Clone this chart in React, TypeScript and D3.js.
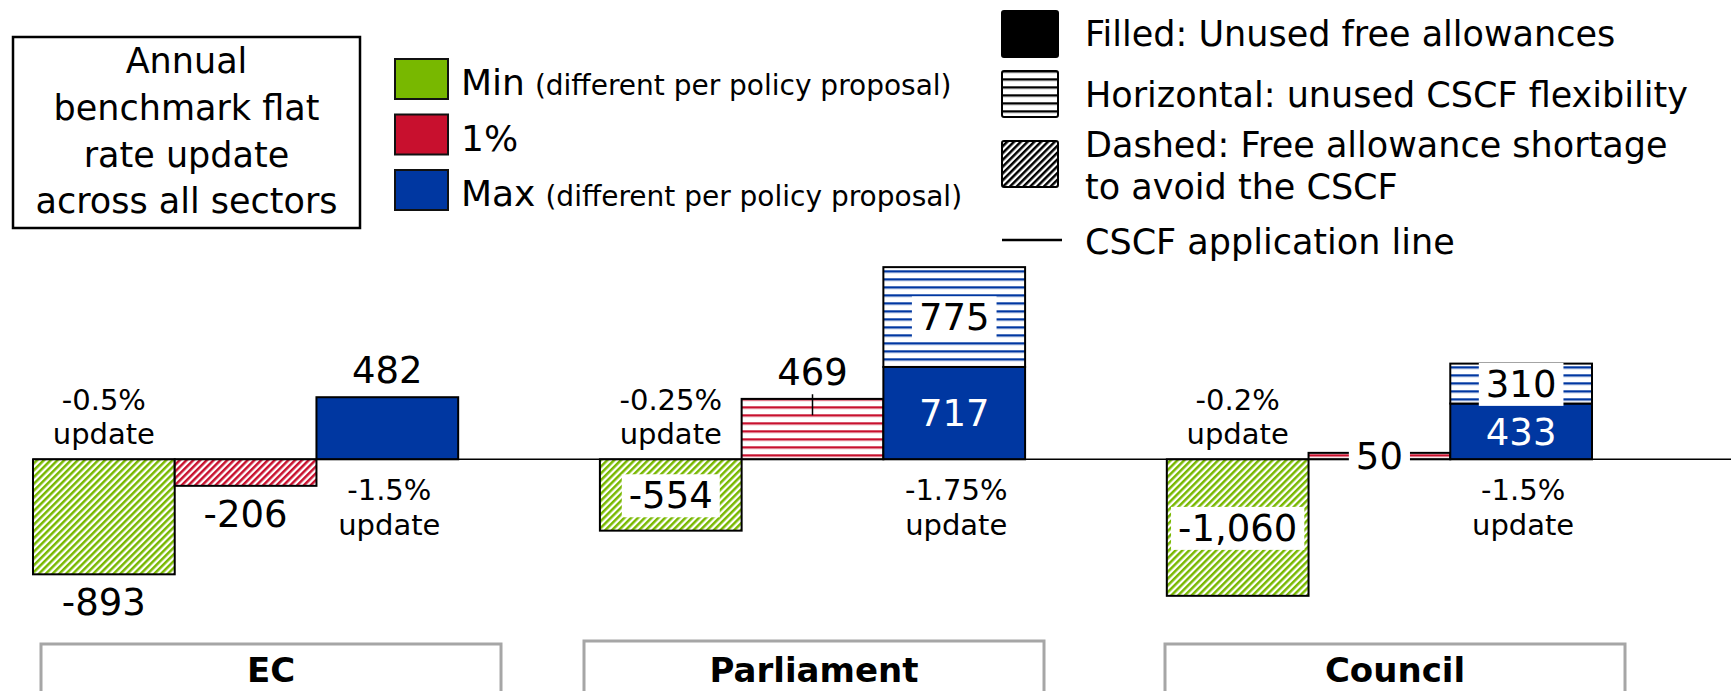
import React, { useEffect, useRef } from "react";
import * as d3 from "d3";

// categorias e séries
const categories = ["EC", "Parliament", "Council"];
const seriesNames = ["Min", "1%", "Max"];
const seriesNotes = ["(different per policy proposal)", "", "(different per policy proposal)"];
const seriesColors = ["#78b800", "#c8102e", "#0037a1"];

// valores (por categoria)
const minValues = [-893, -554, -1060];
const onePercentValues = [-206, 469, 50];
const maxFilledValues = [482, 717, 433];
const maxFlexValues = [0, 775, 310];
const minUpdateLabels = ["-0.5%", "-0.25%", "-0.2%"];
const maxUpdateLabels = ["-1.5%", "-1.75%", "-1.5%"];
const minLabelInside = [false, true, true];
const onePercentLabelInside = [false, false, true];
const cscfLines: (number[] | null)[] = [null, [342, 505], null];

const titleLines = ["Annual", "benchmark flat", "rate update", "across all sectors"];
const patternLegend = [
  ["Filled: Unused free allowances"],
  ["Horizontal: unused CSCF flexibility"],
  ["Dashed: Free allowance shortage", "to avoid the CSCF"],
  ["CSCF application line"],
];

const W = 1731;
const H = 691;
const FONT = "'DejaVu Sans', Verdana, sans-serif";

const fmt = d3
  .formatLocale({ decimal: ".", thousands: ",", grouping: [3], currency: ["", ""], minus: "-" })
  .format(",");

const App = () => {
  const ref = useRef<SVGSVGElement>(null);

  useEffect(() => {
    const svg = d3.select(ref.current);
    svg.selectAll("*").remove();

    const x0 = d3.scaleBand().domain(categories).range([33, 1592]).paddingInner(0.25).paddingOuter(0);
    const x1 = d3.scaleBand().domain(seriesNames).range([0, x0.bandwidth()]);
    const y = d3.scaleLinear().domain([0, 1000]).range([459.3, 459.3 - 128.8]);

    const defs = svg.append("defs");
    const diag = (id: string, color: string) => {
      const p = defs
        .append("pattern")
        .attr("id", id)
        .attr("patternUnits", "userSpaceOnUse")
        .attr("width", 4.8)
        .attr("height", 4.8)
        .attr("patternTransform", "rotate(45)");
      p.append("rect").attr("width", 4.8).attr("height", 4.8).attr("fill", "#fff");
      p.append("rect").attr("width", 2.5).attr("height", 4.8).attr("fill", color);
    };
    const horiz = (id: string, color: string) => {
      const p = defs
        .append("pattern")
        .attr("id", id)
        .attr("patternUnits", "userSpaceOnUse")
        .attr("y", y(0))
        .attr("width", 8)
        .attr("height", 8);
      p.append("rect").attr("width", 8).attr("height", 8).attr("fill", "#fff");
      p.append("rect").attr("y", 3).attr("width", 8).attr("height", 2).attr("fill", color);
      p.append("rect").attr("y", 5).attr("width", 8).attr("height", 1).attr("fill", color).attr("opacity", 0.35);
    };
    seriesColors.forEach((c, i) => {
      diag(`diag${i}`, c);
      horiz(`hor${i}`, c);
    });
    diag("diagK", "#000");
    horiz("horK", "#000");

    svg.append("rect").attr("width", W).attr("height", H).attr("fill", "#fff");

    // caixa do título
    svg
      .append("rect")
      .attr("x", 13)
      .attr("y", 37)
      .attr("width", 347)
      .attr("height", 191)
      .attr("fill", "none")
      .attr("stroke", "#000")
      .attr("stroke-width", 2.5);
    titleLines.forEach((t, i) => {
      svg
        .append("text")
        .attr("x", 186.5)
        .attr("y", 72.7 + i * 46.9)
        .attr("text-anchor", "middle")
        .style("font-family", FONT)
        .style("font-size", "35px")
        .text(t);
    });

    // legenda das séries
    seriesNames.forEach((s, i) => {
      const ly = 59 + i * 55.5;
      svg
        .append("rect")
        .attr("x", 395)
        .attr("y", ly)
        .attr("width", 53)
        .attr("height", 40)
        .attr("fill", seriesColors[i])
        .attr("stroke", "#111")
        .attr("stroke-width", 2);
      const t = svg
        .append("text")
        .attr("x", 461)
        .attr("y", ly + 36)
        .style("font-family", FONT)
        .style("font-size", "36px")
        .text(s);
      if (seriesNotes[i]) {
        t.append("tspan").attr("dx", 10).style("font-size", "28px").text(seriesNotes[i]);
      }
    });

    // legenda dos padrões
    const sw = [
      { y: 11, fill: "#000" },
      { y: 71, fill: "url(#horK)" },
      { y: 141, fill: "url(#diagK)" },
    ];
    sw.forEach((s) => {
      svg
        .append("rect")
        .attr("x", 1002)
        .attr("y", s.y)
        .attr("width", 56)
        .attr("height", 46)
        .attr("rx", 2)
        .attr("fill", s.fill)
        .attr("stroke", "#000")
        .attr("stroke-width", 2);
    });
    svg.append("line").attr("x1", 1002).attr("x2", 1062).attr("y1", 240).attr("y2", 240).attr("stroke", "#000").attr("stroke-width", 2.5);
    const legBase = [[46], [107], [157, 199], [254]];
    patternLegend.forEach((lines, i) => {
      lines.forEach((l, j) => {
        svg
          .append("text")
          .attr("x", 1085)
          .attr("y", legBase[i][j])
          .style("font-family", FONT)
          .style("font-size", "35px")
          .text(l);
      });
    });

    // barras
    type Seg = { cat: string; s: number; v0: number; v1: number; fill: string };
    const segs: Seg[] = [];
    categories.forEach((c, i) => {
      const mv = minValues[i];
      segs.push({ cat: c, s: 0, v0: 0, v1: mv, fill: mv < 0 ? "url(#diag0)" : seriesColors[0] });
      const ov = onePercentValues[i];
      segs.push({ cat: c, s: 1, v0: 0, v1: ov, fill: ov < 0 ? "url(#diag1)" : "url(#hor1)" });
      segs.push({ cat: c, s: 2, v0: 0, v1: maxFilledValues[i], fill: seriesColors[2] });
      if (maxFlexValues[i] > 0) {
        segs.push({ cat: c, s: 2, v0: maxFilledValues[i], v1: maxFilledValues[i] + maxFlexValues[i], fill: "url(#hor2)" });
      }
    });
    const bx = (c: string, s: number) => (x0(c) as number) + (x1(seriesNames[s]) as number);
    const bw = x1.bandwidth();

    svg
      .append("g")
      .selectAll("rect")
      .data(segs)
      .join("rect")
      .attr("x", (d) => bx(d.cat, d.s))
      .attr("y", (d) => y(Math.max(d.v0, d.v1)))
      .attr("width", bw)
      .attr("height", (d) => Math.abs(y(d.v0) - y(d.v1)))
      .attr("fill", (d) => d.fill)
      .attr("stroke", "#000")
      .attr("stroke-width", 2);

    // linha zero
    svg.append("line").attr("x1", 33).attr("x2", W).attr("y1", y(0)).attr("y2", y(0)).attr("stroke", "#000").attr("stroke-width", 1.5);

    // linha CSCF
    categories.forEach((c, i) => {
      const l = cscfLines[i];
      if (!l) return;
      const cx = bx(c, 1) + bw / 2;
      svg.append("line").attr("x1", cx).attr("x2", cx).attr("y1", y(l[0])).attr("y2", y(l[1])).attr("stroke", "#000").attr("stroke-width", 1.5);
    });

    const FS = 37;
    const label = (cx: number, baseline: number, txt: string, color = "#000", box = false) => {
      const g = svg.append("g");
      const t = g
        .append("text")
        .attr("x", cx)
        .attr("y", baseline)
        .attr("text-anchor", "middle")
        .attr("fill", color)
        .style("font-family", FONT)
        .style("font-size", `${FS}px`)
        .text(txt);
      if (box) {
        const bb = (t.node() as SVGTextElement).getBBox();
        g.insert("rect", "text")
          .attr("x", bb.x - 7)
          .attr("y", bb.y)
          .attr("width", bb.width + 14)
          .attr("height", bb.height)
          .attr("fill", "#fff");
      }
    };
    const mid = (a: number, b: number) => (y(a) + y(b)) / 2 + FS * 0.36;

    categories.forEach((c, i) => {
      // Min
      const mcx = bx(c, 0) + bw / 2;
      const mv = minValues[i];
      if (minLabelInside[i]) label(mcx, mid(0, mv), fmt(mv), "#000", true);
      else label(mcx, mv < 0 ? y(mv) + 41 : y(mv) - 14, fmt(mv));
      // 1%
      const ocx = bx(c, 1) + bw / 2;
      const ov = onePercentValues[i];
      if (onePercentLabelInside[i]) label(ocx, mid(0, ov), fmt(ov), "#000", true);
      else label(ocx, ov < 0 ? y(ov) + 41 : y(ov) - 14, fmt(ov));
      // Max
      const xcx = bx(c, 2) + bw / 2;
      const fv = maxFilledValues[i];
      const flex = maxFlexValues[i];
      if (flex > 0) {
        label(xcx, mid(0, fv), fmt(fv), "#fff");
        label(xcx, mid(fv, fv + flex), fmt(flex), "#000", true);
      } else {
        label(xcx, y(fv) - 14, fmt(fv));
      }

      // rótulos de atualização
      [
        [mcx, y(0) - 49, y(0) - 15, minUpdateLabels[i]],
        [xcx + 2, y(0) + 41, y(0) + 76, maxUpdateLabels[i]],
      ].forEach(([cx, b1, b2, txt]) => {
        [txt, "update"].forEach((t, k) => {
          svg
            .append("text")
            .attr("x", cx as number)
            .attr("y", (k === 0 ? b1 : b2) as number)
            .attr("text-anchor", "middle")
            .style("font-family", FONT)
            .style("font-size", "29px")
            .text(t as string);
        });
      });
    });

    // caixas das categorias
    const catBoxX = [41, 584, 1165];
    const catBoxY = [644, 641, 644];
    categories.forEach((c, i) => {
      svg
        .append("rect")
        .attr("x", catBoxX[i])
        .attr("y", catBoxY[i])
        .attr("width", 460)
        .attr("height", 100)
        .attr("fill", "#fff")
        .attr("stroke", "#a6a6a6")
        .attr("stroke-width", 3);
      svg
        .append("text")
        .attr("x", catBoxX[i] + 230)
        .attr("y", 682)
        .attr("text-anchor", "middle")
        .style("font-family", FONT)
        .style("font-size", "34px")
        .style("font-weight", "bold")
        .text(c);
    });

    return () => {
      d3.select(ref.current).selectAll("*").remove();
    };
  }, []);

  return (
    <svg ref={ref} width={W} height={H} style={{ position: "absolute", left: 0, top: 0, display: "block" }}></svg>
  );
};

export default App;
